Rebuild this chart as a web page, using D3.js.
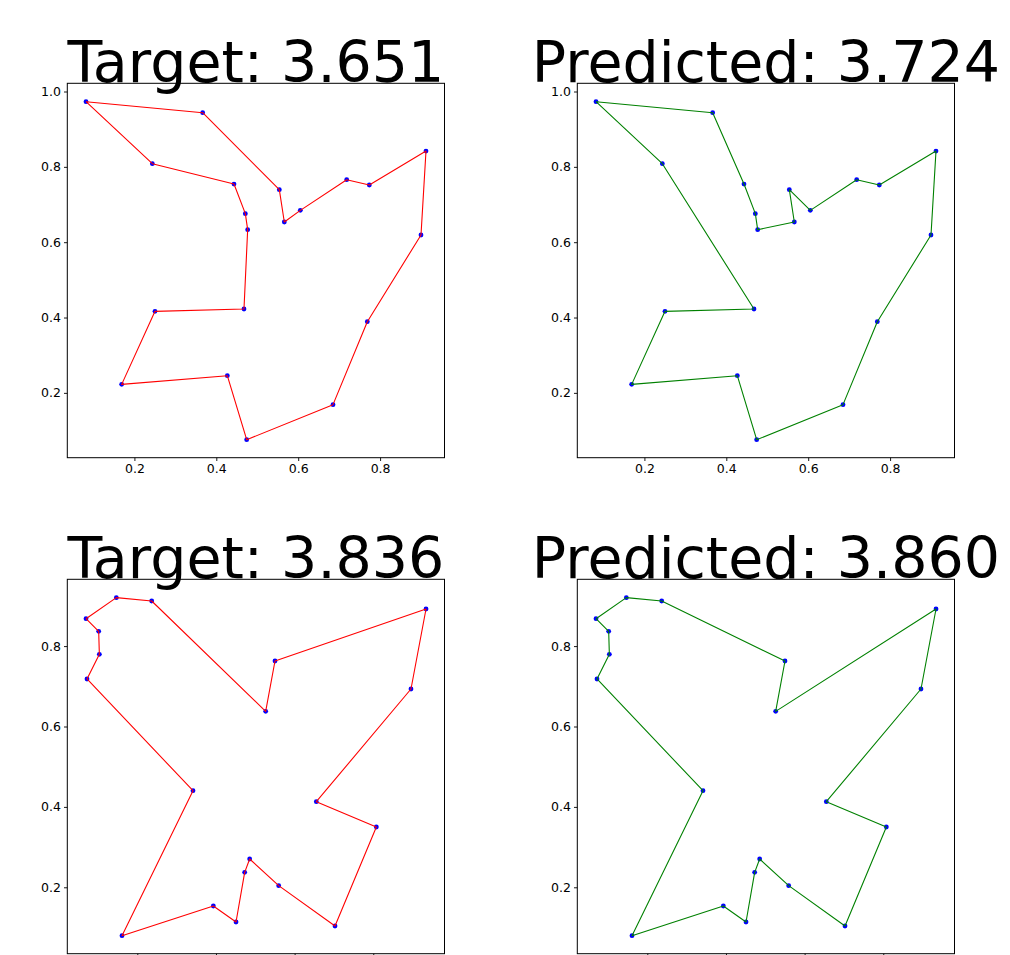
<!DOCTYPE html>
<html>
<head>
<meta charset="utf-8">
<script src="https://cdn.jsdelivr.net/npm/d3@7/dist/d3.min.js"></script>
<style>
  html, body { margin: 0; padding: 0; background: #ffffff; }
  svg { display: block; }
  text { font-family: "DejaVu Sans", sans-serif; }
</style>
</head>
<body>
<svg id="chart" width="1010" height="955"></svg>
<script>
// City coordinates of the first instance (20 cities)
const cityX1 = [0.0818, 0.3667, 0.5539, 0.5661, 0.6052, 0.7184, 0.7737, 0.9121, 0.8999, 0.7688,
                0.6850, 0.4742, 0.4269, 0.1689, 0.2503, 0.4676, 0.4766, 0.4709, 0.4432, 0.2438];
const cityY1 = [0.9730, 0.9438, 0.7394, 0.6536, 0.6845, 0.7659, 0.7518, 0.8420, 0.6191, 0.3890,
                0.1687, 0.0757, 0.2456, 0.2226, 0.4164, 0.4226, 0.6332, 0.6757, 0.7544, 0.8084];

// City coordinates of the second instance (20 cities)
const cityX2 = [0.0696, 0.1467, 0.2366, 0.5264, 0.5501, 0.9341, 0.8959, 0.6552, 0.8078, 0.7027,
                0.5595, 0.4857, 0.4730, 0.4510, 0.3933, 0.1611, 0.3416, 0.0721, 0.1035, 0.1018];
const cityY2 = [0.8682, 0.9205, 0.9122, 0.6377, 0.7629, 0.8923, 0.6933, 0.4130, 0.3500, 0.1037,
                0.2041, 0.2704, 0.2372, 0.1137, 0.1535, 0.0797, 0.4404, 0.7182, 0.7795, 0.8367];

// Visiting orders (closed back to the first city when drawn)
const targetTour1 = [0, 1, 2, 3, 4, 5, 6, 7, 8, 9, 10, 11, 12, 13, 14, 15, 16, 17, 18, 19];
const predTour1   = [0, 1, 18, 17, 16, 3, 2, 4, 5, 6, 7, 8, 9, 10, 11, 12, 13, 14, 15, 19];
const targetTour2 = [0, 1, 2, 3, 4, 5, 6, 7, 8, 9, 10, 11, 12, 13, 14, 15, 16, 17, 18, 19];
const predTour2   = [0, 1, 2, 4, 3, 5, 6, 7, 8, 9, 10, 11, 12, 13, 14, 15, 16, 17, 18, 19];

// Tour lengths shown in the titles
const targetLengths = [3.651, 3.836];
const predLengths   = [3.724, 3.860];

// Axis limits and ticks per instance
const xLimits = [[0.0361, 0.9573], [0.0220, 0.9811]];
const yLimits = [[0.0279, 1.0218], [0.0348, 0.9662]];
const xTicks = [[0.2, 0.4, 0.6, 0.8], [0.2, 0.4, 0.6, 0.8]];
const yTicks = [[0.2, 0.4, 0.6, 0.8, 1.0], [0.2, 0.4, 0.6, 0.8]];

const svg = d3.select("#chart");

const frameW = 377.2, frameH = 374.4;
const colLeft = [67.3, 577.3];
const rowTop = [83.3, 579.3];

const instances = [
  { xs: cityX1, ys: cityY1 },
  { xs: cityX2, ys: cityY2 }
];

const panels = [
  { row: 0, col: 0, inst: 0, tour: targetTour1, color: "#ff0000", title: "Target: " + targetLengths[0].toFixed(3) },
  { row: 0, col: 1, inst: 0, tour: predTour1,   color: "#008000", title: "Predicted: " + predLengths[0].toFixed(3) },
  { row: 1, col: 0, inst: 1, tour: targetTour2, color: "#ff0000", title: "Target: " + targetLengths[1].toFixed(3) },
  { row: 1, col: 1, inst: 1, tour: predTour2,   color: "#008000", title: "Predicted: " + predLengths[1].toFixed(3) }
];

const fmt = d3.format(".1f");

panels.forEach(p => {
  const left = colLeft[p.col], top = rowTop[p.row];
  const data = instances[p.inst];
  const x = d3.scaleLinear().domain(xLimits[p.inst]).range([0, frameW]);
  const y = d3.scaleLinear().domain(yLimits[p.inst]).range([frameH, 0]);

  const g = svg.append("g").attr("transform", `translate(${left},${top})`);

  // axes
  const xAxis = d3.axisBottom(x).tickValues(xTicks[p.inst]).tickFormat(fmt)
    .tickSize(3.3).tickPadding(3);
  const yAxis = d3.axisLeft(y).tickValues(yTicks[p.inst]).tickFormat(fmt)
    .tickSize(3.3).tickPadding(3);

  const gx = g.append("g").attr("transform", `translate(0,${frameH})`).call(xAxis);
  const gy = g.append("g").call(yAxis);
  [gx, gy].forEach(a => {
    a.select(".domain").remove();
    a.selectAll(".tick line").attr("stroke", "#000").attr("stroke-width", 0.9);
    a.selectAll(".tick text").attr("fill", "#000")
      .style("font-family", "'DejaVu Sans', sans-serif").style("font-size", "12.5px");
  });

  // city markers
  g.append("g").selectAll("circle")
    .data(data.xs.map((v, i) => [v, data.ys[i]]))
    .join("circle")
    .attr("cx", d => x(d[0]))
    .attr("cy", d => y(d[1]))
    .attr("r", 2.4)
    .attr("fill", "#0000ff");

  // tour path, closed
  const pts = p.tour.map(i => [data.xs[i], data.ys[i]]);
  pts.push(pts[0]);
  g.append("path")
    .datum(pts)
    .attr("fill", "none")
    .attr("stroke", p.color)
    .attr("stroke-width", 1.1)
    .attr("stroke-linejoin", "round")
    .attr("d", d3.line().x(d => x(d[0])).y(d => y(d[1])));

  // frame
  g.append("rect")
    .attr("x", 0).attr("y", 0).attr("width", frameW).attr("height", frameH)
    .attr("fill", "none").attr("stroke", "#000").attr("stroke-width", 1);

  // title
  g.append("text")
    .attr("x", frameW / 2)
    .attr("y", -1.6)
    .attr("text-anchor", "middle")
    .style("font-size", "57px")
    .attr("fill", "#000")
    .text(p.title);
});
</script>
</body>
</html>
